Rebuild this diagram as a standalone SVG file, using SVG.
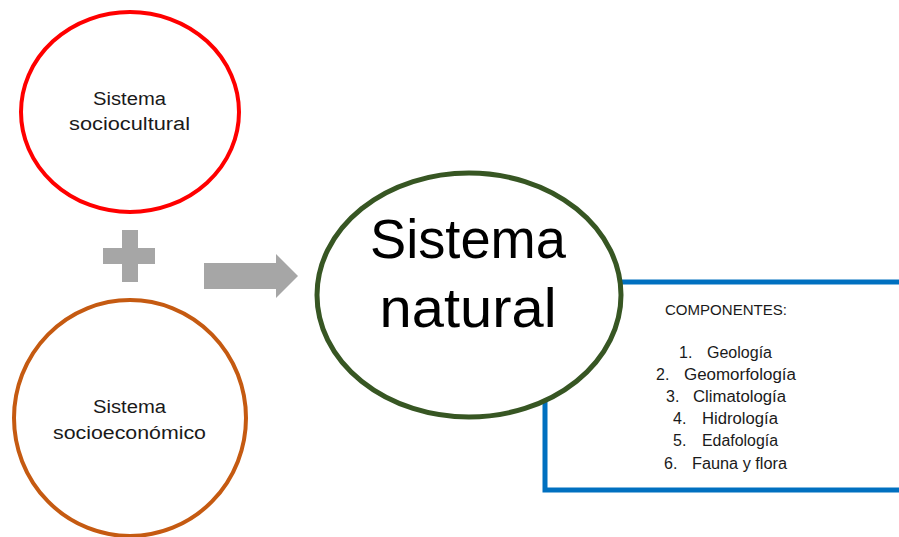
<svg xmlns="http://www.w3.org/2000/svg" width="899" height="537" viewBox="0 0 899 537">
  <style>
    .sys { fill: #ffffff; }
    .lbl { font-family: "Liberation Sans", "Noto Sans", Arial, sans-serif; fill: #1a1a1a; }
    .small { font-size: 18px; }
    .big { font-size: 56px; fill: #000000; }
    .head { font-size: 14px; }
    .item { font-size: 16px; }
    .shape { fill: #a6a6a6; }
  </style>
  <rect width="899" height="537" fill="#ffffff"/>

  <!-- components box (sits behind the natural-system circle) -->
  <g id="componentes">
    <rect x="545" y="282" width="370" height="208" fill="#ffffff" stroke="#0070c0" stroke-width="5"/>
    <text class="lbl head" x="665" y="315" textLength="122" lengthAdjust="spacingAndGlyphs">COMPONENTES:</text>
    <text class="lbl item" x="679" y="358">1.</text>
    <text class="lbl item" x="707" y="358" textLength="65" lengthAdjust="spacingAndGlyphs">Geología</text>
    <text class="lbl item" x="656" y="380">2.</text>
    <text class="lbl item" x="684" y="380" textLength="112" lengthAdjust="spacingAndGlyphs">Geomorfología</text>
    <text class="lbl item" x="666" y="402">3.</text>
    <text class="lbl item" x="693" y="402" textLength="93" lengthAdjust="spacingAndGlyphs">Climatología</text>
    <text class="lbl item" x="673" y="424">4.</text>
    <text class="lbl item" x="702" y="424" textLength="76" lengthAdjust="spacingAndGlyphs">Hidrología</text>
    <text class="lbl item" x="673" y="446">5.</text>
    <text class="lbl item" x="702" y="446" textLength="76" lengthAdjust="spacingAndGlyphs">Edafología</text>
    <text class="lbl item" x="664" y="469">6.</text>
    <text class="lbl item" x="692" y="469" textLength="95" lengthAdjust="spacingAndGlyphs">Fauna y flora</text>
  </g>

  <g id="sistema-sociocultural">
    <ellipse class="sys" cx="130" cy="112" rx="109" ry="100" stroke="#ff0000" stroke-width="4"/>
    <text class="lbl small" x="129.5" y="105" text-anchor="middle" textLength="73" lengthAdjust="spacingAndGlyphs">Sistema</text>
    <text class="lbl small" x="129.5" y="130" text-anchor="middle" textLength="121" lengthAdjust="spacingAndGlyphs">sociocultural</text>
  </g>

  <g id="sistema-socioeconomico">
    <ellipse class="sys" cx="130" cy="418" rx="116" ry="118" stroke="#c55a11" stroke-width="4"/>
    <text class="lbl small" x="129.5" y="413" text-anchor="middle" textLength="73" lengthAdjust="spacingAndGlyphs">Sistema</text>
    <text class="lbl small" x="129.5" y="439" text-anchor="middle" textLength="153" lengthAdjust="spacingAndGlyphs">socioeconómico</text>
  </g>

  <g id="suma">
    <path class="shape" d="M122 230 H138 V248 H155 V264 H138 V282 H122 V264 H103 V248 H122 Z"/>
  </g>

  <g id="connectors">
    <path class="shape" d="M204 263 H276 V254 L298 276 L276 298 V289 H204 Z"/>
  </g>

  <g id="sistema-natural">
    <ellipse class="sys" cx="469" cy="295" rx="152" ry="122" stroke="#375623" stroke-width="5"/>
    <text class="lbl big" x="468" y="258" text-anchor="middle" textLength="196" lengthAdjust="spacingAndGlyphs">Sistema</text>
    <text class="lbl big" x="468" y="327" text-anchor="middle" textLength="177" lengthAdjust="spacingAndGlyphs">natural</text>
  </g>
</svg>
